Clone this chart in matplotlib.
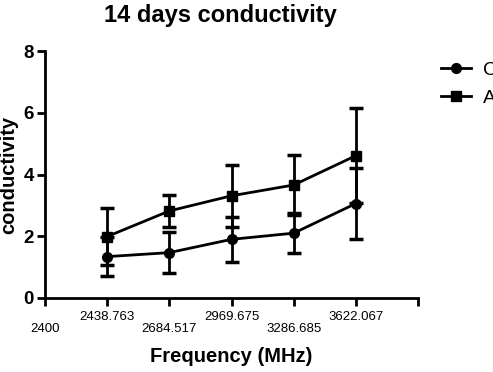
import matplotlib
matplotlib.use("Agg")
import matplotlib.pyplot as plt
from matplotlib.lines import Line2D

plt.rcParams["font.family"] = ["Liberation Sans", "DejaVu Sans"]

# tick labels along the categorical x axis (first tick has no data)
freq_labels = ["2400", "2438.763", "2684.517", "2969.675", "3286.685", "3622.067", ""]
data_pos = [1, 2, 3, 4, 5]

c_mean = [1.34, 1.47, 1.90, 2.10, 3.06]
c_err = [0.62, 0.67, 0.72, 0.65, 1.15]
a_mean = [1.99, 2.82, 3.31, 3.66, 4.61]
a_err = [0.91, 0.52, 1.00, 0.97, 1.53]
series_names = ["C", "A"]

fig = plt.figure(figsize=(4.93, 3.72), dpi=100)
ax = fig.add_axes([45 / 493, 1 - 298 / 372, 373 / 493, 247 / 372])

style = dict(color="black", lw=2, elinewidth=2, capsize=5, capthick=2.5, ms=7)
ax.errorbar(data_pos, c_mean, yerr=c_err, marker="o", **style)
ax.errorbar(data_pos, a_mean, yerr=a_err, marker="s", **style)

ax.set_xlim(0, 6)
ax.set_ylim(0, 8)
ax.set_yticks([0, 2, 4, 6, 8])
ax.set_xticks(range(7))
# stagger labels: even positions sit one line lower
ax.set_xticklabels([("\n" + s) if i % 2 == 0 else s for i, s in enumerate(freq_labels)],
                   fontsize=9.5, linespacing=1.05)
for lab in ax.get_yticklabels():
    lab.set_fontweight("bold")
    lab.set_fontsize(13.5)

for side in ["top", "right"]:
    ax.spines[side].set_visible(False)
for side in ["left", "bottom"]:
    ax.spines[side].set_linewidth(2)
ax.tick_params(width=2, length=6, direction="out")
ax.tick_params(axis="x", pad=3)
ax.tick_params(axis="y", pad=2)

ax.set_title("14 days conductivity", fontsize=17, fontweight="bold", pad=21, x=0.47)
ax.set_xlabel("Frequency (MHz)", fontsize=14.5, fontweight="bold", labelpad=9)
ax.set_ylabel("conductivity", fontsize=14.5, fontweight="bold", labelpad=4)

handles = [Line2D([], [], color="black", lw=2, marker=m, ms=7) for m in ["o", "s"]]
fig.legend(handles, series_names, loc="upper left", bbox_to_anchor=(441 / 493, 1 - 61 / 372),
           frameon=False, fontsize=14, handlelength=1.55, handletextpad=0.6,
           labelspacing=0.55, borderpad=0, borderaxespad=0)

fig.savefig("out.png", dpi=100)
